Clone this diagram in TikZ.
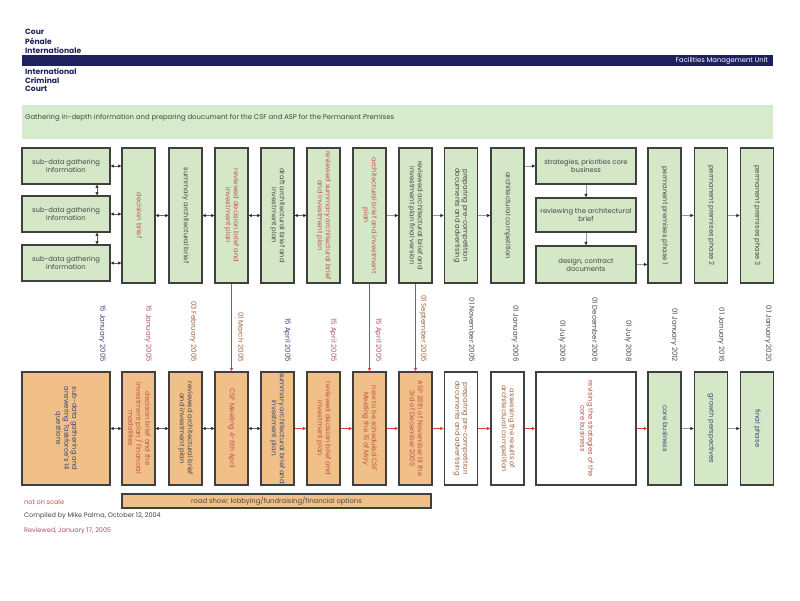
\documentclass[tikz,border=0pt]{standalone}
\usepackage{fontspec}
\setmainfont{Poppins}
\usetikzlibrary{arrows.meta}

\definecolor{iccnavy}{HTML}{1E2160}
\definecolor{bannergreen}{HTML}{D6EBCC}
\definecolor{boxgreen}{HTML}{D4E8C8}
\definecolor{boxorange}{HTML}{F0C088}
\definecolor{txtred}{HTML}{C0504A}
\definecolor{txtgray}{HTML}{454545}
\definecolor{txtnavy}{HTML}{3A4470}
\definecolor{txtpink}{HTML}{B05070}
\definecolor{txtbrown}{HTML}{A0603A}
\definecolor{redline}{HTML}{E03A30}

\newcommand{\vlab}[1]{\rotatebox{-90}{\begin{tabular}{@{}c@{}}#1\end{tabular}}}

\tikzset{
  box/.style={draw=black!75, line width=1.2pt, inner sep=0pt, align=center,
    text=txtgray, font=\fontsize{6.8}{8}\selectfont},
  subbox/.style={box, fill=boxgreen, minimum width=88pt, minimum height=36pt},
  greencol/.style={box, fill=boxgreen, minimum width=33pt, minimum height=135pt},
  greenwide/.style={box, fill=boxgreen, minimum width=100pt, minimum height=36pt},
  orangecol/.style={box, fill=boxorange, minimum width=33pt, minimum height=113pt},
  whitecol/.style={box, fill=white, minimum width=33pt, minimum height=113pt},
  datelab/.style={rotate=-90, anchor=east, inner sep=0pt, font=\fontsize{7}{8}\selectfont},
  dbl/.style={draw=black!60, line width=0.8pt,
    {Latex[length=3pt,width=3.5pt,color=black!85]}-{Latex[length=3pt,width=3.5pt,color=black!85]}},
  single/.style={draw=black!40, line width=0.8pt, -{Latex[length=3.5pt,width=3.5pt,color=black!85]}},
  redarrow/.style={draw=redline, line width=0.6pt, -{Latex[length=3.5pt,width=3.5pt]}},
  header/.style={anchor=west, inner sep=0pt, text=iccnavy, font=\fontsize{7.6}{8}\selectfont\bfseries},
  footer/.style={anchor=west, inner sep=0pt, font=\fontsize{6.5}{7}\selectfont},
}

\begin{document}
\begin{tikzpicture}[x=1pt, y=-1pt]
  \fill[white] (0,0) rectangle (800,600);
  \useasboundingbox (0,0) rectangle (800,600);

  % court header
  \node[header] (cour) at (25,32) {Cour};
  \node[header] (penale) at (25,41) {Pénale};
  \node[header] (inter) at (25,50) {Internationale};
  \fill[iccnavy] (22,55) rectangle (773,66);
  \node[anchor=east, inner sep=0pt, text=white, font=\fontsize{6.8}{7}\selectfont] (fmu) at (768,60.5) {Facilities Management Unit};
  \node[header] (intl) at (25,71) {International};
  \node[header] (crim) at (25,80) {Criminal};
  \node[header] (court) at (25,89) {Court};

  % banner
  \fill[bannergreen] (22,105) rectangle (773,139);
  \node[anchor=west, inner sep=0pt, text=txtgray, font=\fontsize{6.9}{8}\selectfont] (title) at (25,118)
    {Gathering in-depth information and preparing doucument for the CSF and ASP for the Permanent Premises};

  % top row
  \node[subbox] (sub1) at (66,166) {sub-data gathering\\information};
  \node[subbox] (sub2) at (66,214) {sub-data gathering\\information};
  \node[subbox] (sub3) at (66,263) {sub-data gathering\\information};
  \node[greencol, text=txtred] (dbrief) at (138.5,215.5) {\vlab{decision brief}};
  \node[greencol] (sumbrief) at (185.5,215.5) {\vlab{summary architectural brief}};
  \node[greencol, text=txtred] (revdec) at (231.5,215.5) {\vlab{reviewed decision brief and\\investment plan}};
  \node[greencol] (draft) at (277.5,215.5) {\vlab{draft architectural brief and\\investment plan}};
  \node[greencol, text=txtred] (revsum) at (323.5,215.5) {\vlab{reviewed summary architectural brief\\and investment plan}};
  \node[greencol, text=txtred] (archbrief) at (369.5,215.5) {\vlab{architectural brief and investment\\plan}};
  \node[greencol] (revarch) at (415.5,215.5) {\vlab{reviewed architectural brief and\\investment plan final version}};
  \node[greencol] (prepdoc) at (461,215.5) {\vlab{preparing pre-competition\\documents and advertising}};
  \node[greencol] (archcomp) at (507.5,215.5) {\vlab{architectural competition}};
  \node[greenwide] (strat) at (586,166) {strategies, priorities core\\business};
  \node[greenwide, minimum height=34pt] (review) at (586,215) {reviewing the architectural\\brief};
  \node[greenwide, minimum height=37pt] (design) at (586,264.5) {design, contract\\documents};
  \node[greencol] (phase1) at (664.5,215.5) {\vlab{permanent premises phase 1}};
  \node[greencol] (phase2) at (711,215.5) {\vlab{permanent premises phase 2}};
  \node[greencol] (phase3) at (757,215.5) {\vlab{permanent premises phase 3}};

  % top row links
  \draw[dbl] (sub1.east) -- (sub1.east -| dbrief.west);
  \draw[dbl] (sub2.east) -- (sub2.east -| dbrief.west);
  \draw[dbl] (sub3.east) -- (sub3.east -| dbrief.west);
  \draw[dbl] ([xshift=31pt]sub1.south) -- ([xshift=31pt]sub2.north);
  \draw[dbl] ([xshift=31pt]sub2.south) -- ([xshift=31pt]sub3.north);
  \draw[dbl] (dbrief) -- (sumbrief);
  \draw[dbl] (sumbrief) -- (revdec);
  \draw[dbl] (revdec) -- (draft);
  \draw[dbl] (draft) -- (revsum);
  \draw[single] (archbrief) -- (revarch);
  \draw[single] (revarch) -- (prepdoc);
  \draw[single] (prepdoc) -- (archcomp);
  \draw[single] (archcomp.east |- strat.west) -- (strat.west);
  \draw[single] (strat) -- (review);
  \draw[single] (review) -- (design);
  \draw[single] (design.east) -- (design.east -| phase1.west);
  \draw[single] (phase1) -- (phase2);
  \draw[single] (phase2) -- (phase3);

  % dates
  \node[datelab, text=txtnavy] (date1) at (102,362) {15 January 2005};
  \node[datelab, text=txtpink] (date2) at (148,362) {15 January 2005};
  \node[datelab, text=txtbrown] (date3) at (193,362) {03 February 2005};
  \node[datelab, text=txtbrown] (date4) at (241,362) {01 March 2005};
  \node[datelab, text=txtnavy] (date5) at (287,362) {15 April 2005};
  \node[datelab, text=txtpink] (date6) at (333,362) {15 April 2005};
  \node[datelab, text=txtpink] (date7) at (378,362) {15 April 2005};
  \node[datelab, text=txtbrown] (date8) at (423,362) {01 September 2005};
  \node[datelab, text=txtgray] (date9) at (472,362) {01 November 2005};
  \node[datelab, text=txtgray] (date10) at (515,362) {01 January 2006};
  \node[datelab, text=txtgray] (date11) at (562,362) {01 July 2006};
  \node[datelab, text=txtgray] (date12) at (595,362) {01 December 2006};
  \node[datelab, text=txtgray] (date13) at (628,362) {01 July 2008};
  \node[datelab, text=txtgray] (date14) at (674,362) {01 January 2012};
  \node[datelab, text=txtgray] (date15) at (721,362) {01 January 2016};
  \node[datelab, text=txtgray] (date16) at (768,362) {01 January 2020};

  % bottom row
  \node[orangecol, minimum width=88pt, text=txtnavy] (subq) at (66,428.5) {\vlab{sub-data gathering and\\answering Taskforce's 14\\questions}};
  \node[orangecol, text=txtred] (decinv) at (138.5,428.5) {\vlab{decision brief and the\\investment plan / financial\\modalities}};
  \node[orangecol] (revinv) at (185.5,428.5) {\vlab{reviewed architectural brief\\and investment plan}};
  \node[orangecol, text=txtred] (csf) at (231.5,428.5) {\vlab{CSF Meeting 4-6th April}};
  \node[orangecol, text=txtnavy] (suminv) at (277.5,428.5) {\vlab{summary architectural brief and\\investment plan.}};
  \node[orangecol, text=txtred] (revdecinv) at (323.5,428.5) {\vlab{reviewed decision brief and\\investment plan}};
  \node[orangecol, text=txtred] (newcsf) at (369.5,428.5) {\vlab{new to be scheduled CSF\\Meeting the 15 of May}};
  \node[orangecol, text=txtred] (asp) at (415.5,428.5) {\vlab{ASP 28th of November til the\\3rd of December 2005}};
  \node[whitecol, text=txtbrown] (prepadv) at (461,428.5) {\vlab{preparing pre-competition\\documents and advertising}};
  \node[whitecol, text=txtbrown] (assess) at (507.5,428.5) {\vlab{assessing the results of\\architectural competition}};
  \node[whitecol, minimum width=100pt, text=txtred] (revcore) at (586,428.5) {\vlab{revising the strategies of the\\core business}};
  \node[greencol, minimum height=113pt, text=txtnavy] (core) at (664.5,428.5) {\vlab{core business}};
  \node[greencol, minimum height=113pt, text=txtnavy] (growth) at (711,428.5) {\vlab{growth perspectives}};
  \node[greencol, minimum height=113pt, text=txtnavy] (final) at (757,428.5) {\vlab{final phase}};
  \node[box, fill=boxorange, minimum width=309pt, minimum height=14pt] (road) at (276.5,501) {road show: lobbying/fundraising/financial options};

  % bottom row links
  \draw[dbl] (subq) -- (decinv);
  \draw[dbl] (decinv) -- (revinv);
  \draw[dbl] (revinv) -- (csf);
  \draw[dbl] (csf) -- (suminv);
  \draw[redarrow] (suminv) -- (revdecinv);
  \draw[redarrow] (revdecinv) -- (newcsf);
  \draw[redarrow] (newcsf) -- (asp);
  \draw[redarrow] (asp) -- (prepadv);
  \draw[redarrow] (prepadv) -- (assess);
  \draw[redarrow] (assess) -- (revcore);
  \draw[redarrow] (revcore) -- (core);
  \draw[single] (core) -- (growth);
  \draw[single] (growth) -- (final);

  % red links from top to bottom
  \draw[redarrow] (revdec) -- (csf);
  \draw[redarrow] (archbrief) -- (newcsf);
  \draw[redarrow] (revarch) -- (asp);

  % footer
  \node[footer, text=txtred] (noscale) at (24,502) {not on scale};
  \node[footer, text=txtgray] (compiled) at (24,516) {Compiled by Mike Palma, October 12, 2004};
  \node[footer, text=txtpink] (reviewed) at (24,531) {Reviewed, January 17, 2005};
\end{tikzpicture}
\end{document}
